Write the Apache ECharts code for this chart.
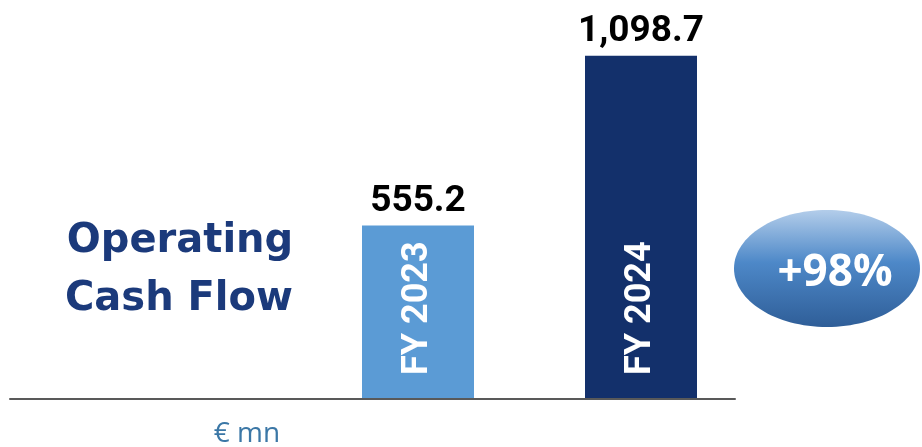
<!DOCTYPE html>
<html><head><meta charset="utf-8">
<script src="https://cdn.jsdelivr.net/npm/echarts@6/dist/echarts.min.js"></script>
<style>html,body{margin:0;padding:0;background:#fff}#c{width:922px;height:447px}</style>
</head><body><div id="c"></div>
<script>
const categories = ['FY 2023', 'FY 2024'];
const values = [555.2, 1098.7];
const valueLabels = ['555.2', '1,098.7'];
const barColors = ['#5b9bd5', '#13306b'];
const titleLines = ['Operating', 'Cash Flow'];
const growthLabel = '+98%';
const unitLabel = '€ mn';

const chart = echarts.init(document.getElementById('c'), null, {renderer: 'canvas'});
const yAx = (i) => ({type: 'value', gridIndex: i, min: 0, max: 1200, show: false});
const option = {
  animation: false,
  backgroundColor: '#ffffff',
  grid: [
    {left: 10, right: 187, top: 24, bottom: 48},
    {left: 306.5, right: 169.5, top: 24, bottom: 48}
  ],
  xAxis: [
    {type: 'category', gridIndex: 0, data: [''], z: 10,
     axisLine: {show: true, lineStyle: {color: '#595959', width: 2}},
     axisTick: {show: false}, axisLabel: {show: false}},
    {type: 'category', gridIndex: 1, data: categories,
     axisLine: {show: false}, axisTick: {show: false}, axisLabel: {show: false}}
  ],
  yAxis: [yAx(0), yAx(1)],
  series: [
    {
      type: 'bar', xAxisIndex: 1, yAxisIndex: 1, barWidth: 112,
      data: values.map((v, i) => ({value: v, itemStyle: {color: barColors[i]}})),
      label: {
        show: true, position: 'top', distance: 5,
        formatter: (p) => valueLabels[p.dataIndex],
        fontFamily: 'Roboto', fontWeight: 'bold', fontSize: 37, color: '#000000'
      }
    },
    {
      type: 'bar', xAxisIndex: 1, yAxisIndex: 1, barWidth: 112, barGap: '-100%', z: 5, silent: true,
      data: values,
      itemStyle: {color: 'rgba(0,0,0,0)'},
      label: {
        show: true, position: 'insideBottom', distance: 24, rotate: 90,
        align: 'left', verticalAlign: 'middle',
        formatter: (p) => categories[p.dataIndex],
        fontFamily: 'Roboto', fontWeight: 'bold', fontSize: 36, color: '#ffffff'
      }
    }
  ],
  graphic: [
    {type: 'text', x: 180, y: 242, style: {text: titleLines[0], textAlign: 'center', textVerticalAlign: 'middle',
      font: 'bold 40px "DejaVu Sans"', fill: '#1b3a7b'}},
    {type: 'text', x: 179, y: 300, style: {text: titleLines[1], textAlign: 'center', textVerticalAlign: 'middle',
      font: 'bold 40px "DejaVu Sans"', fill: '#1b3a7b'}},
    {type: 'ellipse', shape: {cx: 827, cy: 268.5, rx: 93, ry: 58.5},
      style: {fill: new echarts.graphic.LinearGradient(0, 0, 0, 1, [
        {offset: 0, color: '#b3cdea'}, {offset: 0.45, color: '#4d88c8'}, {offset: 1, color: '#2f5e98'}])}},
    {type: 'text', x: 835, y: 273, z: 30, style: {text: growthLabel, textAlign: 'center', textVerticalAlign: 'middle',
      font: 'bold 44px "Open Sans"', fill: '#ffffff'}},
    {type: 'text', x: 247, y: 434, style: {text: unitLabel, textAlign: 'center', textVerticalAlign: 'middle',
      font: '28px "Open Sans"', fill: '#3b77a6'}}
  ]
};
chart.setOption(option);
</script>
</body></html>
